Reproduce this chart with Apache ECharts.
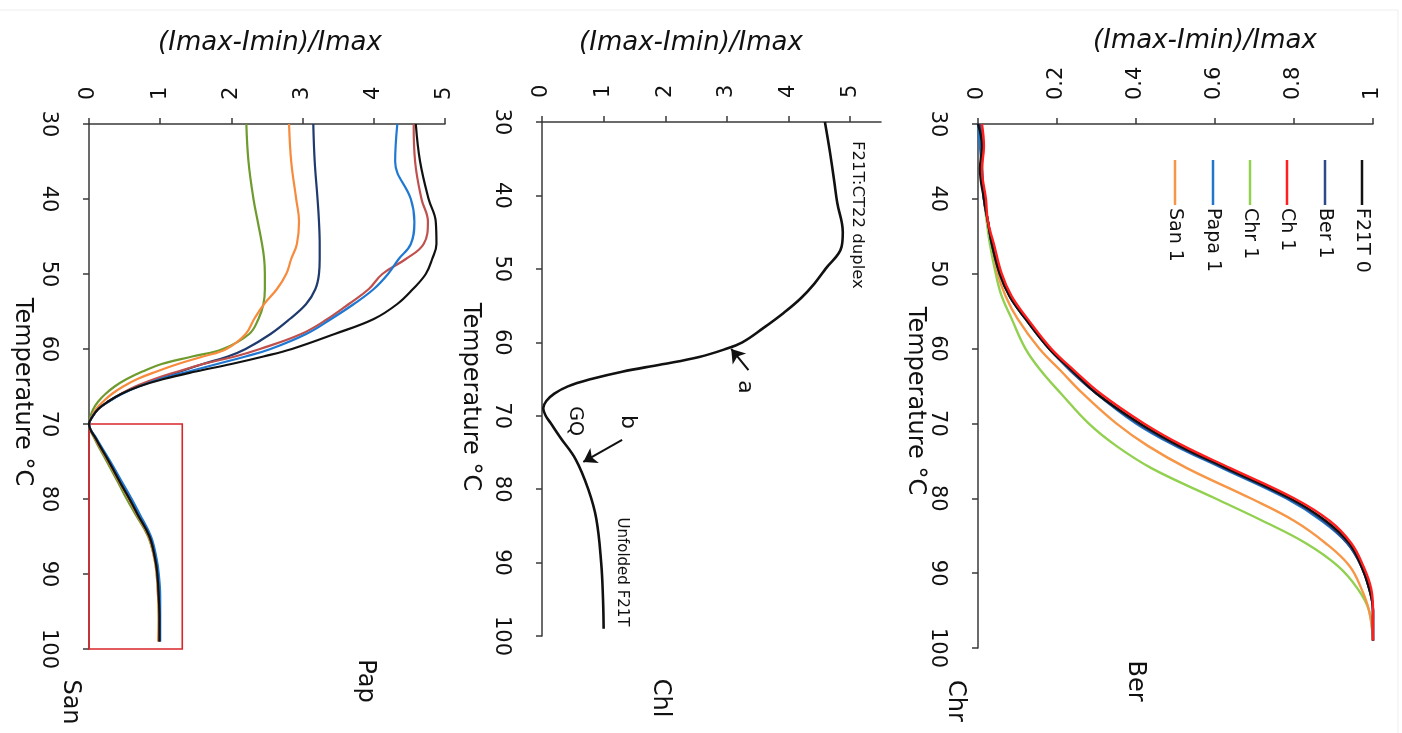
<!DOCTYPE html>
<html><head><meta charset="utf-8">
<script src="https://cdn.jsdelivr.net/npm/echarts@6/dist/echarts.min.js"></script>
<style>html,body{margin:0;padding:0;background:#fff}#c{width:1402px;height:733px}</style>
</head><body><div id="c"></div>
<script>
// ---------- Panel 1 (San / Pap) ----------
const temps1 = [30,35,40,43,46,48,50,52,54,56,58,60,61,62,63,64,65,66,67,68,69,70,72,75,78,80,82,85,88,90,93,96,99];
const p1F21T = [4.59,4.65,4.77,4.87,4.88,4.82,4.73,4.55,4.33,4.0,3.45,2.85,2.45,2.0,1.5,1.05,0.7,0.45,0.27,0.13,0.05,0.0,0.1,0.28,0.45,0.57,0.68,0.85,0.93,0.96,0.98,0.99,0.99];
const p1Ch   = [4.56,4.58,4.67,4.76,4.7,4.45,4.12,3.93,3.65,3.35,2.98,2.4,2.05,1.6,1.25,0.92,0.65,0.45,0.27,0.13,0.05,0.0,0.1,0.28,0.45,0.57,0.68,0.85,0.93,0.96,0.98,0.99,0.99];
const p1Papa = [4.33,4.3,4.52,4.57,4.52,4.35,4.2,4.0,3.72,3.4,3.05,2.55,2.2,1.8,1.4,1.0,0.7,0.46,0.28,0.13,0.05,0.0,0.11,0.3,0.48,0.6,0.71,0.87,0.95,0.98,1.0,1.0,1.0];
const p1Ber  = [3.15,3.17,3.21,3.23,3.24,3.24,3.23,3.18,3.05,2.82,2.55,2.2,1.95,1.6,1.28,0.97,0.68,0.45,0.27,0.13,0.05,0.0,0.1,0.28,0.45,0.57,0.68,0.85,0.93,0.96,0.98,0.99,0.99];
const p1San  = [2.81,2.84,2.91,2.95,2.92,2.84,2.77,2.64,2.46,2.32,2.2,1.93,1.6,1.25,0.95,0.68,0.48,0.32,0.2,0.1,0.04,0.0,0.09,0.27,0.44,0.56,0.67,0.84,0.92,0.95,0.97,0.98,0.97];
const p1Chr  = [2.21,2.24,2.31,2.37,2.43,2.46,2.47,2.47,2.45,2.38,2.25,1.88,1.45,1.02,0.75,0.53,0.36,0.23,0.13,0.06,0.02,0.0,0.08,0.25,0.42,0.53,0.65,0.83,0.92,0.95,0.97,0.98,0.98];
// ---------- Panel 2 (Chl) ----------
const temps2 = [30,34,38,41,45,47,50,52,54,56,58,60,61,62,63,64,65,66,67,68,69,70,71,73,76,80,84,90,95,99];
const p2Duplex = [4.59,4.67,4.74,4.79,4.88,4.86,4.6,4.42,4.2,3.92,3.6,3.25,2.95,2.55,1.95,1.3,0.8,0.42,0.2,0.07,0.02,0.06,0.14,0.3,0.55,0.75,0.88,0.96,0.99,1.0];
// ---------- Panel 3 (Chr / Ber) ----------
const temps3 = [30,33,36,40,43,46,50,53,56,60,63,66,70,73,76,80,83,86,89,92,95,99];
const p3F21T = [0.0,0.01,0.005,0.015,0.025,0.035,0.055,0.08,0.12,0.18,0.24,0.3,0.41,0.51,0.63,0.79,0.88,0.94,0.97,0.99,1.0,1.0];
const p3Ber  = [0.005,0.01,0.01,0.015,0.025,0.035,0.055,0.08,0.12,0.18,0.235,0.3,0.405,0.505,0.625,0.785,0.875,0.935,0.97,0.99,1.0,1.0];
const p3Ch   = [0.01,0.015,0.01,0.02,0.025,0.04,0.06,0.085,0.125,0.185,0.245,0.31,0.42,0.52,0.64,0.8,0.89,0.945,0.975,0.995,1.0,1.0];
const p3Chr  = [0.005,0.01,0.01,0.015,0.022,0.03,0.045,0.06,0.085,0.12,0.16,0.21,0.28,0.35,0.44,0.6,0.72,0.83,0.91,0.96,0.99,1.0];
const p3Papa = [0.0,0.005,0.01,0.015,0.025,0.035,0.055,0.08,0.12,0.18,0.24,0.3,0.4,0.5,0.62,0.78,0.87,0.935,0.97,0.99,1.0,1.0];
const p3San  = [0.005,0.01,0.01,0.015,0.025,0.035,0.05,0.07,0.1,0.155,0.21,0.265,0.35,0.43,0.53,0.69,0.8,0.88,0.94,0.97,0.99,1.0];
// ---------- Labels ----------
const legendNames = ['San 1','Papa 1','Chr 1','Ch 1','Ber 1','F21T 0'];
const panelTags = ['San','Pap','Chl','Chr','Ber'];
const yTitle = '(Imax-Imin)/Imax';
const tempName = 'Temperature °C';

const FONT = 'DejaVu Sans';
const AX = '#3a3a3a';
const c1 = {F21T:'#111111', Ch:'#c0504d', Papa:'#1f78d1', Ber:'#1f3a6e', San:'#f78a3c', Chr:'#6e9a2e'};
const c3 = {F21T:'#111111', Ch:'#ff1f1f', Papa:'#2277cc', Ber:'#2c4a8a', San:'#f79646', Chr:'#92d050'};
const legendColors = [c3.San, c3.Papa, c3.Chr, c3.Ch, c3.Ber, c3.F21T];

function pairs(t, v){ return t.map((x,i)=>[v[i], x]); }

function xAx(idx, max, interval, custom){
  const o = {gridIndex:idx, type:'value', position:'top', min:0, max:max, interval:interval,
    axisLine:{show:true, onZero:false, lineStyle:{color:AX, width:1.5}},
    axisTick:{show:true, inside:false, length:6, lineStyle:{color:AX, width:1.5}},
    splitLine:{show:false},
    axisLabel:{rotate:-90, margin:24, color:'#111', fontSize:21, fontFamily:FONT}};
  if (custom){ o.axisTick.customValues = custom; o.axisLabel.customValues = custom; }
  return o;
}
function yAx(idx){
  return {gridIndex:idx, type:'value', inverse:true, min:30, max:100, interval:10,
    axisLine:{show:true, onZero:false, lineStyle:{color:AX, width:1.5}},
    axisTick:{show:true, inside:false, length:6, lineStyle:{color:AX, width:1.5}},
    splitLine:{show:false},
    axisLabel:{rotate:-90, margin:30, color:'#111', fontSize:21, fontFamily:FONT}};
}
function ln(name, xi, data, color, w, extra){
  return Object.assign({name:name, type:'line', xAxisIndex:xi, yAxisIndex:xi, data:data,
    showSymbol:false, smooth:0.4, lineStyle:{color:color, width:w}, itemStyle:{color:color},
    silent:true, animation:false, z:3}, extra||{});
}
function rtext(x, y, text, size, align, extra){
  return Object.assign({type:'text', x:x, y:y, rotation:-Math.PI/2,
    style:{text:text, x:0, y:0, align:align||'center', verticalAlign:'middle',
      fill:'#111', font: size+'px "'+FONT+'"'}, silent:true}, extra||{});
}

const chart = echarts.init(document.getElementById('c'), null, {renderer:'canvas'});
const graphics = [];
// legend (panel 3)
const legX = [1175,1213,1250,1287,1325,1362];
legendNames.forEach((n,i)=>{
  graphics.push({type:'line', shape:{x1:legX[i], y1:160, x2:legX[i], y2:205}, style:{stroke:legendColors[i], lineWidth:2.5}, silent:true});
  graphics.push(rtext(legX[i], 208, n, 19, 'left'));
});
// temperature axis names
[[22,392],[470,397],[915,401]].forEach(p=>graphics.push(rtext(p[0], p[1], tempName, 24, 'center')));
// panel tags at bottom
const tagPos = [[70,702],[365,681],[660,698],[955,701],[1135,681]];
panelTags.forEach((t,i)=>graphics.push(rtext(tagPos[i][0], tagPos[i][1], t, 24, 'center')));
// annotations panel 2
graphics.push(rtext(857, 215, 'F21T:CT22 duplex', 16.5, 'center'));
graphics.push(rtext(622, 572, 'Unfolded F21T', 15, 'center'));
graphics.push(rtext(745, 387, 'a', 22, 'center'));
graphics.push(rtext(628, 422, 'b', 22, 'center'));
graphics.push(rtext(575, 421, 'GQ', 19, 'center'));
// faint frame
graphics.push({type:'rect', shape:{x:-2, y:10, width:1400, height:740}, style:{fill:'none', stroke:'#eeeeee', lineWidth:1}, silent:true, z:-10});

const arrowStyle = {color:'#111', width:2, type:'solid'};
const titleStyle = {fontStyle:'italic', fontWeight:'normal', fontSize:26, color:'#111', fontFamily:FONT};
const option = {
  backgroundColor:'#ffffff',
  animation:false,
  title:[
    {text:yTitle, left:265, top:25, textAlign:'center', textStyle:titleStyle},
    {text:yTitle, left:686, top:25, textAlign:'center', textStyle:titleStyle},
    {text:yTitle, left:1200, top:23, textAlign:'center', textStyle:titleStyle}
  ],
  grid:[
    {left:89, top:124, width:356, height:525},
    {left:542, top:122, width:339, height:514},
    {left:978, top:124, width:395, height:524}
  ],
  xAxis:[ xAx(0,5,1), xAx(1,5.5,1,[0,1,2,3,4,5]), xAx(2,1,0.2) ],
  yAxis:[ yAx(0), yAx(1), yAx(2) ],
  series:[
    ln('Chr 1',0,pairs(temps1,p1Chr),c1.Chr,2.2),
    ln('San 1',0,pairs(temps1,p1San),c1.San,2.2),
    ln('Ber 1',0,pairs(temps1,p1Ber),c1.Ber,2.2),
    ln('Ch 1',0,pairs(temps1,p1Ch),c1.Ch,2.2),
    ln('Papa 1',0,pairs(temps1,p1Papa),c1.Papa,2.2),
    ln('F21T 0',0,pairs(temps1,p1F21T),c1.F21T,2.2,{
      markArea:{silent:true, itemStyle:{color:'rgba(0,0,0,0)', borderColor:'#d9262b', borderWidth:1.6},
        data:[[{coord:[0,70]},{coord:[1.31,100.3]}]]}
    }),
    ln('F21T:CT22',1,pairs(temps2,p2Duplex),'#111111',2.6,{
      markLine:{silent:true, animation:false, symbol:['none','arrow'], symbolSize:13, label:{show:false},
        lineStyle:arrowStyle,
        data:[
          [{coord:[3.35,63.8]},{coord:[3.07,60.9]}],
          [{coord:[1.3,73.3]},{coord:[0.67,76.3]}]
        ]}
    }),
    ln('Chr 1',2,pairs(temps3,p3Chr),c3.Chr,2.4),
    ln('San 1',2,pairs(temps3,p3San),c3.San,2.4),
    ln('Papa 1',2,pairs(temps3,p3Papa),c3.Papa,2.4),
    ln('Ber 1',2,pairs(temps3,p3Ber),c3.Ber,2.4),
    ln('F21T 0',2,pairs(temps3,p3F21T),c3.F21T,2.4),
    ln('Ch 1',2,pairs(temps3,p3Ch),c3.Ch,2.4)
  ],
  graphic:graphics
};
chart.setOption(option);
</script>
</body></html>
